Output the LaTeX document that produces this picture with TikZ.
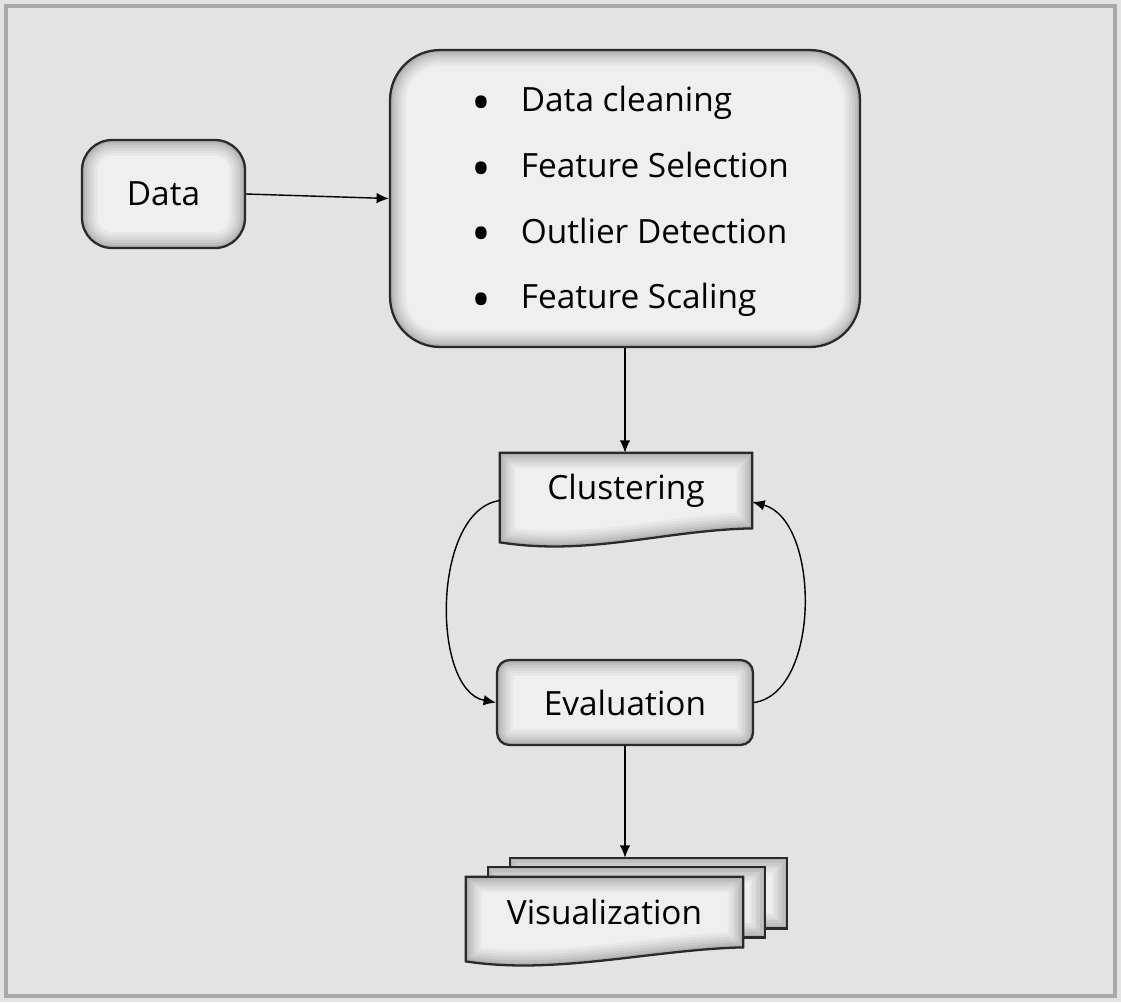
\documentclass[tikz,border=0pt]{standalone}
\usepackage{fontspec}
\setmainfont{Open Sans}
\usetikzlibrary{arrows.meta,calc,backgrounds}

\definecolor{pagegray}{HTML}{E3E3E3}
\definecolor{framegray}{HTML}{A9A9A9}
\definecolor{boxfill}{HTML}{EFEFEF}
\definecolor{edgegray}{HTML}{2A2A2A}

\tikzset{
  inshade/.style={path picture={
    \foreach \w/\o in {18/0.03,15/0.03,12/0.04,9/0.05,6/0.06,3/0.08}
      \draw[line width=\w pt,black,opacity=\o,rounded corners=#1]
        (path picture bounding box.south west) rectangle (path picture bounding box.north east);}},
}

% document outline with wavy bottom
\newcommand\docpath[1]{(#1.north west) -- (#1.north east) -- (#1.south east)
  .. controls +(-1.8cm,-0.04cm) and +(1.8cm,-0.28cm) .. ([yshift=-0.28cm]#1.south west) -- cycle}
\newcommand\shadedpath[1]{%
  \fill[boxfill] #1;
  \begin{scope}
    \clip #1;
    \foreach \w/\o in {18/0.03,15/0.03,12/0.04,9/0.05,6/0.06,3/0.08}
      \draw[line width=\w pt,black,opacity=\o] #1;
  \end{scope}
  \draw[edgeline] #1;}
\newcommand\bigdot{\raisebox{-5.5pt}{\fontsize{30}{22}\selectfont\textbullet}}

\begin{document}
\begin{tikzpicture}[x=0.02cm,y=0.02cm,
  txt/.style={font=\fontsize{19}{22}\selectfont,text=black},
  edgeline/.style={draw=edgegray,line width=1.3pt},
  rbox/.style={txt,edgeline,fill=boxfill,rectangle,rounded corners=#1,inshade=#1},
  slot/.style={txt,rectangle,inner sep=0pt},
  flow/.style={-{Latex[length=7pt,width=6pt]},line width=0.8pt}]
  \begin{scope}[on background layer]
    \fill[pagegray] (0,0) rectangle (1121,-1002);
    \draw[framegray,line width=2pt] (6,-6) rectangle (1115,-996);
  \end{scope}
  \useasboundingbox (0,0) rectangle (1121,-1002);

  \node[rbox=0.6cm,minimum width=3.26cm,minimum height=2.16cm] (data) at (163.5,-194) {Data};
  \node[rbox=1cm,minimum width=9.4cm,minimum height=5.94cm] (prep) at (625,-198.5)
    {\begin{tabular}{@{\hspace{0.2cm}}l@{\hspace{0.6cm}}l@{}}
      \bigdot & Data cleaning\\[0.54cm]
      \bigdot & Feature Selection\\[0.54cm]
      \bigdot & Outlier Detection\\[0.54cm]
      \bigdot & Feature Scaling\\[-0.16cm]
    \end{tabular}};
  \node[slot,minimum width=5.04cm,minimum height=1.5cm] (clus) at (626,-490.5) {Clustering};
  \node[rbox=0.25cm,minimum width=5.12cm,minimum height=1.7cm] (eval) at (625,-702.5) {Evaluation};
  \node[slot,minimum width=5.54cm,minimum height=1.4cm] (vis3) at (648.5,-893) {};
  \node[slot,minimum width=5.54cm,minimum height=1.4cm] (vis2) at (626.5,-902) {};
  \node[slot,minimum width=5.54cm,minimum height=1.4cm] (vis) at (604.5,-912) {Visualization};

  \begin{scope}[on background layer]
    \shadedpath{\docpath{clus}}
    \shadedpath{(vis3.south west) rectangle (vis3.north east)}
    \shadedpath{(vis2.south west) rectangle (vis2.north east)}
    \shadedpath{\docpath{vis}}
  \end{scope}

  \draw[flow] (data.east) -- (prep.west);
  \draw[flow] (prep.south) -- (prep.south |- clus.north);
  \draw[flow] ([yshift=-0.2cm]clus.west) .. controls +(-1.36cm,-0.2cm) and +(-1.3cm,0.24cm) .. (eval.west);
  \draw[flow] (eval.east) .. controls +(1.34cm,0.2cm) and +(1.36cm,-0.36cm) .. ([yshift=-0.23cm]clus.east);
  \draw[flow] (eval.south) -- (eval.south |- vis3.north);
\end{tikzpicture}
\end{document}
